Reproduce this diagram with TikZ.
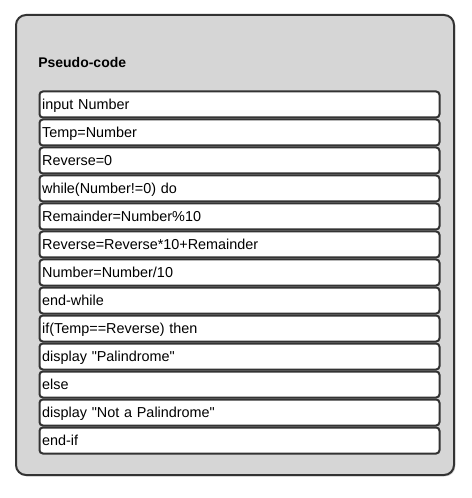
\documentclass[tikz,border=0pt]{standalone}
\usepackage{fontspec}
\setmainfont{Liberation Sans}
\newfontfamily\codefont{Liberation Sans}
\usetikzlibrary{positioning,shadows}
\definecolor{panelgray}{HTML}{D6D6D6}
\definecolor{edge}{HTML}{333333}
\tikzset{
  panel/.style={draw=edge, line width=1.5pt, fill=panelgray, rounded corners=7.5pt,
    drop shadow={shadow xshift=1pt, shadow yshift=-1pt, opacity=0.35}},
  codeline/.style={draw=edge, line width=1.5pt, fill=white, rounded corners=2.5pt,
    anchor=north west, minimum width=300pt, minimum height=19.5pt, text width=296pt,
    text height=9pt, text depth=2.2pt, inner xsep=1.5pt, align=left,
    font=\codefont\fontsize{10.8}{12}\selectfont},
  heading/.style={anchor=west, inner sep=0pt, font=\bfseries\fontsize{10.5}{12}\selectfont}
}
\begin{document}
\begin{tikzpicture}[x=0.75pt,y=-0.75pt]
\useasboundingbox (0,0) rectangle (471,498);
% outer panel
\draw[panel] (16,15) rectangle (454,475);
\node[heading] (title) at (38,63) {Pseudo-code};
% one box per line of pseudo-code
\foreach \txt [count=\i] in {input Number, Temp=Number, Reverse=0, while(Number!=0) do,
  Remainder=Number\%10, Reverse=Reverse*10+Remainder, Number=Number/10, end-while,
  if(Temp==Reverse) then, display "Palindrome", else, display "Not a Palindrome", end-if}
  \node[codeline] (line\i) at (38.5,{90.5+28*(\i-1)}) {\txt};
\end{tikzpicture}
\end{document}
